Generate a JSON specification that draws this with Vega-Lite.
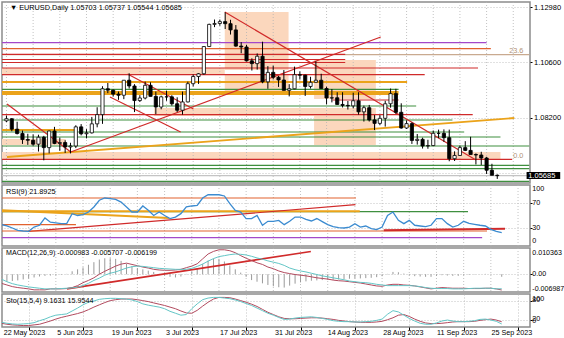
{
  "$schema": "https://vega.github.io/schema/vega-lite/v6.json",
  "padding": 0,
  "autosize": {"type": "pad"},
  "background": "white",
  "spacing": 2,
  "bounds": "flush",
  "config": {
    "font": "Liberation Sans",
    "view": {"stroke": "#8c8c8c", "strokeWidth": 1.5},
    "axis": {"labelFont": "Liberation Sans", "labelFontSize": 7.2, "labelColor": "#000000", "gridColor": "#b4b4b4", "gridDash": [1, 2], "gridWidth": 0.8, "domain": false, "tickColor": "#000000", "tickSize": 2, "title": null, "labelOverlap": false, "labelBound": false},
    "text": {"font": "Liberation Sans"}
  },
  "datasets": {
    "weeks": [{"i":0},{"i":5},{"i":10},{"i":15},{"i":20},{"i":25},{"i":30},{"i":35},{"i":40},{"i":45},{"i":50},{"i":55},{"i":60},{"i":65},{"i":70},{"i":75},{"i":80},{"i":85},{"i":90},{"i":95}],
    "bars": [
      {"i":0,"o":1.0806,"h":1.0829,"l":1.0801,"c":1.0815,"rsi":35,"mh":-0.00293,"ma":-0.00357,"mb":-0.0019,"k":14.2,"d":11.3},
      {"i":1,"o":1.0815,"h":1.0818,"l":1.0761,"c":1.077,"rsi":32.8,"mh":-0.00293,"ma":-0.00422,"mb":-0.00293,"k":11.3,"d":8.3},
      {"i":2,"o":1.077,"h":1.0802,"l":1.0747,"c":1.0751,"rsi":29.5,"mh":-0.00267,"ma":-0.00486,"mb":-0.0037,"k":9.3,"d":6.4},
      {"i":3,"o":1.0751,"h":1.0764,"l":1.0706,"c":1.0725,"rsi":25.7,"mh":-0.00242,"ma":-0.00524,"mb":-0.00422,"k":8.3,"d":5.4},
      {"i":4,"o":1.0725,"h":1.075,"l":1.0702,"c":1.0722,"rsi":24.6,"mh":-0.00203,"ma":-0.0055,"mb":-0.0046,"k":9.3,"d":4.4},
      {"i":5,"o":1.0722,"h":1.0747,"l":1.0698,"c":1.0705,"rsi":24,"mh":-0.00164,"ma":-0.00576,"mb":-0.00499,"k":10.3,"d":4.4},
      {"i":6,"o":1.0705,"h":1.0746,"l":1.0673,"c":1.0735,"rsi":31,"mh":-0.00126,"ma":-0.00614,"mb":-0.00524,"k":13.2,"d":6.4},
      {"i":7,"o":1.0735,"h":1.0741,"l":1.0635,"c":1.069,"rsi":34,"mh":-0.00087,"ma":-0.00614,"mb":-0.0055,"k":19.1,"d":8.3},
      {"i":8,"o":1.069,"h":1.0763,"l":1.0665,"c":1.0762,"rsi":46,"mh":-0.00062,"ma":-0.00614,"mb":-0.00576,"k":24,"d":13.2},
      {"i":9,"o":1.0762,"h":1.078,"l":1.0705,"c":1.0708,"rsi":39,"mh":-0.00049,"ma":-0.00576,"mb":-0.00576,"k":30.9,"d":18.1},
      {"i":10,"o":1.0708,"h":1.0733,"l":1.0676,"c":1.0712,"rsi":38,"mh":-0.00036,"ma":-0.00576,"mb":-0.00576,"k":35.8,"d":24},
      {"i":11,"o":1.0712,"h":1.0722,"l":1.0667,"c":1.0693,"rsi":36.6,"mh":-0.00023,"ma":-0.00576,"mb":-0.00563,"k":37.7,"d":28.9},
      {"i":12,"o":1.0693,"h":1.0711,"l":1.0665,"c":1.0697,"rsi":36.6,"mh":0.00015,"ma":-0.00563,"mb":-0.0055,"k":39.7,"d":32.8},
      {"i":13,"o":1.0697,"h":1.0787,"l":1.0688,"c":1.078,"rsi":53,"mh":0.00118,"ma":-0.00524,"mb":-0.00537,"k":48.5,"d":36.8},
      {"i":14,"o":1.078,"h":1.0792,"l":1.0743,"c":1.075,"rsi":50,"mh":0.00195,"ma":-0.00447,"mb":-0.00511,"k":57.4,"d":40.7},
      {"i":15,"o":1.075,"h":1.077,"l":1.073,"c":1.0754,"rsi":51.3,"mh":0.00272,"ma":-0.00332,"mb":-0.00447,"k":67.2,"d":45.6},
      {"i":16,"o":1.0754,"h":1.0823,"l":1.0751,"c":1.0793,"rsi":55.7,"mh":0.00375,"ma":-0.00242,"mb":-0.00357,"k":75,"d":52.5},
      {"i":17,"o":1.0793,"h":1.0865,"l":1.0778,"c":1.0833,"rsi":64,"mh":0.00478,"ma":-0.00139,"mb":-0.00242,"k":78.9,"d":60.3},
      {"i":18,"o":1.0833,"h":1.0956,"l":1.0793,"c":1.0945,"rsi":75,"mh":0.00581,"ma":0.00003,"mb":-0.00152,"k":83.8,"d":67.2},
      {"i":19,"o":1.0945,"h":1.097,"l":1.0926,"c":1.0939,"rsi":78.7,"mh":0.00632,"ma":0.00118,"mb":-0.00036,"k":85.8,"d":74},
      {"i":20,"o":1.0939,"h":1.0942,"l":1.0911,"c":1.0922,"rsi":77.6,"mh":0.00632,"ma":0.00221,"mb":0.00041,"k":86.8,"d":79.9},
      {"i":21,"o":1.0922,"h":1.0933,"l":1.0897,"c":1.0917,"rsi":76.5,"mh":0.00607,"ma":0.00324,"mb":0.00093,"k":86.8,"d":82.8},
      {"i":22,"o":1.0917,"h":1.0983,"l":1.09,"c":1.0982,"rsi":72,"mh":0.00529,"ma":0.00401,"mb":0.0017,"k":85.8,"d":84.8},
      {"i":23,"o":1.0982,"h":1.1012,"l":1.0946,"c":1.0957,"rsi":64,"mh":0.00414,"ma":0.00439,"mb":0.00247,"k":84.8,"d":84.8},
      {"i":24,"o":1.0957,"h":1.0965,"l":1.0844,"c":1.0894,"rsi":55.7,"mh":0.00324,"ma":0.00388,"mb":0.00298,"k":81.9,"d":84.8},
      {"i":25,"o":1.0894,"h":1.0917,"l":1.0888,"c":1.0905,"rsi":55.7,"mh":0.00247,"ma":0.00337,"mb":0.00324,"k":77,"d":82.8},
      {"i":26,"o":1.0905,"h":1.0976,"l":1.0899,"c":1.096,"rsi":65.6,"mh":0.00195,"ma":0.00285,"mb":0.00311,"k":70.1,"d":79.9},
      {"i":27,"o":1.096,"h":1.0973,"l":1.0912,"c":1.0912,"rsi":58.5,"mh":0.00144,"ma":0.00247,"mb":0.00285,"k":66.2,"d":77},
      {"i":28,"o":1.0912,"h":1.0933,"l":1.0835,"c":1.0866,"rsi":50,"mh":0.00093,"ma":0.00195,"mb":0.0026,"k":63.2,"d":73},
      {"i":29,"o":1.0866,"h":1.0915,"l":1.0856,"c":1.091,"rsi":55.7,"mh":0.00015,"ma":0.0017,"mb":0.00234,"k":60.3,"d":69.1},
      {"i":30,"o":1.091,"h":1.0937,"l":1.0893,"c":1.091,"rsi":50,"mh":-0.00049,"ma":0.00157,"mb":0.00221,"k":55.4,"d":65.2},
      {"i":31,"o":1.091,"h":1.0917,"l":1.0872,"c":1.088,"rsi":45,"mh":-0.001,"ma":0.00157,"mb":0.00208,"k":47.5,"d":60.3},
      {"i":32,"o":1.088,"h":1.0908,"l":1.0844,"c":1.0852,"rsi":47.5,"mh":-0.00126,"ma":0.0017,"mb":0.00195,"k":41.7,"d":55.4},
      {"i":33,"o":1.0852,"h":1.0933,"l":1.0833,"c":1.0888,"rsi":53,"mh":-0.00087,"ma":0.00195,"mb":0.00195,"k":35.8,"d":48.5},
      {"i":34,"o":1.0888,"h":1.0976,"l":1.0886,"c":1.0967,"rsi":64,"mh":0.00015,"ma":0.0026,"mb":0.00195,"k":37.7,"d":42.6},
      {"i":35,"o":1.0967,"h":1.1007,"l":1.0955,"c":1.0998,"rsi":65.6,"mh":0.00118,"ma":0.00324,"mb":0.00234,"k":55.4,"d":41.7},
      {"i":36,"o":1.0998,"h":1.1013,"l":1.0966,"c":1.101,"rsi":66.6,"mh":0.00247,"ma":0.00414,"mb":0.00311,"k":70.1,"d":50.5},
      {"i":37,"o":1.101,"h":1.113,"l":1.1006,"c":1.1128,"rsi":78.7,"mh":0.00414,"ma":0.00607,"mb":0.00401,"k":82.8,"d":63.2},
      {"i":38,"o":1.1128,"h":1.1227,"l":1.1126,"c":1.1224,"rsi":84,"mh":0.00542,"ma":0.00799,"mb":0.00517,"k":87.7,"d":75},
      {"i":39,"o":1.1224,"h":1.1245,"l":1.1212,"c":1.1228,"rsi":84,"mh":0.00619,"ma":0.00903,"mb":0.00619,"k":89.7,"d":84.8},
      {"i":40,"o":1.1228,"h":1.1245,"l":1.1218,"c":1.1236,"rsi":84,"mh":0.00607,"ma":0.00966,"mb":0.00697,"k":89.7,"d":89.7},
      {"i":41,"o":1.1236,"h":1.1276,"l":1.1204,"c":1.1227,"rsi":82,"mh":0.00504,"ma":0.00966,"mb":0.00735,"k":87.7,"d":89.7},
      {"i":42,"o":1.1227,"h":1.1244,"l":1.118,"c":1.12,"rsi":69.4,"mh":0.0035,"ma":0.00929,"mb":0.00774,"k":85.8,"d":88.7},
      {"i":43,"o":1.12,"h":1.1221,"l":1.1127,"c":1.113,"rsi":58.5,"mh":0.00195,"ma":0.00851,"mb":0.00799,"k":81.9,"d":84.8},
      {"i":44,"o":1.113,"h":1.1147,"l":1.1099,"c":1.1126,"rsi":55.7,"mh":0.00067,"ma":0.00735,"mb":0.00787,"k":77,"d":79.9},
      {"i":45,"o":1.1126,"h":1.1135,"l":1.1063,"c":1.1066,"rsi":45,"mh":-0.001,"ma":0.00632,"mb":0.00761,"k":71.1,"d":75},
      {"i":46,"o":1.1066,"h":1.1077,"l":1.1024,"c":1.1054,"rsi":45,"mh":-0.00229,"ma":0.00542,"mb":0.00709,"k":65.2,"d":69.1},
      {"i":47,"o":1.1054,"h":1.1098,"l":1.1028,"c":1.1086,"rsi":50,"mh":-0.00293,"ma":0.00452,"mb":0.00645,"k":57.4,"d":62.3},
      {"i":48,"o":1.1086,"h":1.1149,"l":1.0969,"c":1.0975,"rsi":34,"mh":-0.00357,"ma":0.00388,"mb":0.00594,"k":49.5,"d":53.4},
      {"i":49,"o":1.0975,"h":1.1043,"l":1.0945,"c":1.1016,"rsi":40.5,"mh":-0.00422,"ma":0.00285,"mb":0.00529,"k":41.7,"d":44.6},
      {"i":50,"o":1.1016,"h":1.1045,"l":1.0986,"c":1.0995,"rsi":40.5,"mh":-0.00473,"ma":0.00221,"mb":0.00478,"k":35.8,"d":37.7},
      {"i":51,"o":1.0995,"h":1.1001,"l":1.0953,"c":1.0983,"rsi":42,"mh":-0.00511,"ma":0.00131,"mb":0.00427,"k":28.9,"d":30.9},
      {"i":52,"o":1.0983,"h":1.1026,"l":1.0938,"c":1.0938,"rsi":35,"mh":-0.00524,"ma":0.00067,"mb":0.0035,"k":23,"d":26},
      {"i":53,"o":1.0938,"h":1.0965,"l":1.0912,"c":1.0945,"rsi":40.5,"mh":-0.00447,"ma":0.00028,"mb":0.00247,"k":24,"d":25},
      {"i":54,"o":1.0945,"h":1.1041,"l":1.0943,"c":1.1006,"rsi":47.5,"mh":-0.0037,"ma":-0.0001,"mb":0.00182,"k":27,"d":25},
      {"i":55,"o":1.1006,"h":1.102,"l":1.0985,"c":1.1004,"rsi":47.5,"mh":-0.00319,"ma":-0.00036,"mb":0.00131,"k":28.9,"d":26},
      {"i":56,"o":1.1004,"h":1.1006,"l":1.0914,"c":1.0955,"rsi":43.6,"mh":-0.0028,"ma":-0.00062,"mb":0.00093,"k":29.9,"d":27},
      {"i":57,"o":1.0955,"h":1.0997,"l":1.0946,"c":1.0973,"rsi":41,"mh":-0.00254,"ma":-0.001,"mb":0.00041,"k":30.9,"d":27.9},
      {"i":58,"o":1.0973,"h":1.1064,"l":1.0973,"c":1.0982,"rsi":45,"mh":-0.00242,"ma":-0.00139,"mb":-0.0001,"k":28.9,"d":27.9},
      {"i":59,"o":1.0982,"h":1.101,"l":1.0946,"c":1.0946,"rsi":40,"mh":-0.00229,"ma":-0.00164,"mb":-0.00062,"k":26,"d":27},
      {"i":60,"o":1.0946,"h":1.0954,"l":1.0878,"c":1.0905,"rsi":35,"mh":-0.00216,"ma":-0.0019,"mb":-0.001,"k":23,"d":25},
      {"i":61,"o":1.0905,"h":1.0944,"l":1.0886,"c":1.0906,"rsi":31.7,"mh":-0.00216,"ma":-0.00229,"mb":-0.00139,"k":19.1,"d":23},
      {"i":62,"o":1.0906,"h":1.093,"l":1.0876,"c":1.0877,"rsi":30,"mh":-0.00203,"ma":-0.00254,"mb":-0.00177,"k":17.2,"d":20.1},
      {"i":63,"o":1.0877,"h":1.093,"l":1.0864,"c":1.0873,"rsi":29.5,"mh":-0.0019,"ma":-0.00267,"mb":-0.00216,"k":16.2,"d":18.1},
      {"i":64,"o":1.0873,"h":1.0892,"l":1.0855,"c":1.0871,"rsi":31,"mh":-0.00177,"ma":-0.00293,"mb":-0.00267,"k":16.2,"d":16.2},
      {"i":65,"o":1.0871,"h":1.0928,"l":1.086,"c":1.0893,"rsi":36.6,"mh":-0.00164,"ma":-0.00319,"mb":-0.00293,"k":15.2,"d":15.2},
      {"i":66,"o":1.0893,"h":1.093,"l":1.0833,"c":1.0845,"rsi":31,"mh":-0.00164,"ma":-0.00344,"mb":-0.00319,"k":15.2,"d":14.2},
      {"i":67,"o":1.0845,"h":1.0872,"l":1.0803,"c":1.0863,"rsi":32.8,"mh":-0.00152,"ma":-0.00383,"mb":-0.00332,"k":16.2,"d":14.2},
      {"i":68,"o":1.0863,"h":1.0875,"l":1.0803,"c":1.081,"rsi":28.4,"mh":-0.00139,"ma":-0.00422,"mb":-0.00357,"k":17.2,"d":14.2},
      {"i":69,"o":1.081,"h":1.0831,"l":1.0766,"c":1.0795,"rsi":26.8,"mh":-0.00113,"ma":-0.0046,"mb":-0.00396,"k":20.1,"d":15.2},
      {"i":70,"o":1.0795,"h":1.0831,"l":1.0788,"c":1.0817,"rsi":31,"mh":-0.00075,"ma":-0.00473,"mb":-0.00422,"k":24,"d":17.2},
      {"i":71,"o":1.0817,"h":1.0893,"l":1.0781,"c":1.088,"rsi":50,"mh":0.00015,"ma":-0.00422,"mb":-0.00447,"k":38.7,"d":22.1},
      {"i":72,"o":1.088,"h":1.0946,"l":1.0863,"c":1.0924,"rsi":55.7,"mh":0.00093,"ma":-0.00396,"mb":-0.00447,"k":49.5,"d":27.9},
      {"i":73,"o":1.0924,"h":1.0945,"l":1.0836,"c":1.0843,"rsi":42,"mh":0.0008,"ma":-0.00396,"mb":-0.00447,"k":45.6,"d":35.8},
      {"i":74,"o":1.0843,"h":1.0882,"l":1.0772,"c":1.0775,"rsi":36.6,"mh":0.00028,"ma":-0.00422,"mb":-0.00447,"k":35.8,"d":37.7},
      {"i":75,"o":1.0775,"h":1.0808,"l":1.0771,"c":1.0794,"rsi":42,"mh":-0.00036,"ma":-0.00434,"mb":-0.00447,"k":26,"d":31.9},
      {"i":76,"o":1.0794,"h":1.0799,"l":1.0706,"c":1.0721,"rsi":34,"mh":-0.00075,"ma":-0.0046,"mb":-0.0046,"k":18.1,"d":24},
      {"i":77,"o":1.0721,"h":1.0749,"l":1.0703,"c":1.0726,"rsi":32.8,"mh":-0.00087,"ma":-0.00499,"mb":-0.00486,"k":11.3,"d":17.2},
      {"i":78,"o":1.0726,"h":1.0733,"l":1.0686,"c":1.0697,"rsi":31.7,"mh":-0.001,"ma":-0.00537,"mb":-0.00524,"k":8.3,"d":12.3},
      {"i":79,"o":1.0697,"h":1.0724,"l":1.0685,"c":1.0699,"rsi":34,"mh":-0.001,"ma":-0.00576,"mb":-0.0055,"k":8.3,"d":10.3},
      {"i":80,"o":1.0699,"h":1.0764,"l":1.0698,"c":1.0752,"rsi":45,"mh":-0.00062,"ma":-0.0055,"mb":-0.00563,"k":12.3,"d":10.3},
      {"i":81,"o":1.0752,"h":1.0768,"l":1.0731,"c":1.0752,"rsi":45,"mh":-0.00036,"ma":-0.00524,"mb":-0.00563,"k":18.1,"d":11.3},
      {"i":82,"o":1.0752,"h":1.0769,"l":1.0715,"c":1.0733,"rsi":36.6,"mh":-0.00049,"ma":-0.00537,"mb":-0.00563,"k":21.1,"d":13.2},
      {"i":83,"o":1.0733,"h":1.0768,"l":1.0631,"c":1.0642,"rsi":31,"mh":-0.00062,"ma":-0.0055,"mb":-0.00576,"k":18.1,"d":15.2},
      {"i":84,"o":1.0642,"h":1.0674,"l":1.0632,"c":1.0656,"rsi":34,"mh":-0.00062,"ma":-0.0055,"mb":-0.00576,"k":16.2,"d":16.2},
      {"i":85,"o":1.0656,"h":1.0699,"l":1.0654,"c":1.069,"rsi":40.5,"mh":-0.00036,"ma":-0.0055,"mb":-0.00576,"k":16.2,"d":16.2},
      {"i":86,"o":1.069,"h":1.0718,"l":1.0675,"c":1.0678,"rsi":37,"mh":-0.00023,"ma":-0.00563,"mb":-0.00563,"k":17.2,"d":16.2},
      {"i":87,"o":1.0678,"h":1.0737,"l":1.066,"c":1.066,"rsi":35.5,"mh":-0.0001,"ma":-0.00563,"mb":-0.0055,"k":19.1,"d":17.2},
      {"i":88,"o":1.066,"h":1.0665,"l":1.0617,"c":1.0658,"rsi":34,"mh":0.00003,"ma":-0.00563,"mb":-0.0055,"k":23,"d":20.1},
      {"i":89,"o":1.0658,"h":1.0672,"l":1.0615,"c":1.0645,"rsi":32.8,"mh":0.00015,"ma":-0.0055,"mb":-0.0055,"k":24,"d":22.1},
      {"i":90,"o":1.0645,"h":1.065,"l":1.0576,"c":1.0592,"rsi":27.3,"mh":0.00015,"ma":-0.0055,"mb":-0.0055,"k":21.1,"d":24},
      {"i":91,"o":1.0592,"h":1.062,"l":1.0573,"c":1.057,"rsi":24,"mh":0.00003,"ma":-0.00576,"mb":-0.00576,"k":17.2,"d":21.1},
      {"i":92,"o":1.05703,"h":1.05737,"l":1.05544,"c":1.05685,"rsi":21.9,"mh":-0.00098,"ma":-0.0062,"mb":-0.00571,"k":9.16,"d":15.95}
    ],
    "zones": [
      {"i1":40.92,"i2":52.88,"p1":1.12777,"p2":1.10264},
      {"i1":40.92,"i2":52.88,"p1":1.1009,"p2":1.0918},
      {"i1":57.66,"i2":69.24,"p1":1.10697,"p2":1.09007},
      {"i1":27.68,"i2":69.24,"p1":1.08617,"p2":1.0827},
      {"i1":57.66,"i2":69.24,"p1":1.0827,"p2":1.07014},
      {"i1":-1,"i2":40.92,"p1":1.1035,"p2":1.1009},
      {"i1":-1,"i2":92.6,"p1":1.0671,"p2":1.06407},
      {"i1":-1,"i2":11.1,"p1":1.07274,"p2":1.07014}
    ],
    "plines": [
      {"i1":-1,"i2":98,"p1":1.05685,"p2":1.05685,"tone":"bid"},
      {"i1":-1,"i2":90.0,"p1":1.11446,"p2":1.11446,"tone":"purple"},
      {"i1":-1,"i2":90.8,"p1":1.11187,"p2":1.11187,"tone":"orangered"},
      {"i1":-1,"i2":98,"p1":1.10926,"p2":1.10926,"tone":"tan"},
      {"i1":-1,"i2":63.5,"p1":1.10944,"p2":1.10944,"tone":"red"},
      {"i1":-1,"i2":63.5,"p1":1.10719,"p2":1.10719,"tone":"red"},
      {"i1":-1,"i2":63.5,"p1":1.10589,"p2":1.10589,"tone":"red"},
      {"i1":-1,"i2":88.4,"p1":1.1035,"p2":1.1035,"tone":"red"},
      {"i1":-1,"i2":78.4,"p1":1.1006,"p2":1.1006,"tone":"red"},
      {"i1":-1,"i2":75.1,"p1":1.09744,"p2":1.09744,"tone":"gold"},
      {"i1":-1,"i2":73.5,"p1":1.09427,"p2":1.09427,"tone":"green"},
      {"i1":-1,"i2":73.5,"p1":1.0931,"p2":1.0931,"tone":"gold"},
      {"i1":-1,"i2":73.5,"p1":1.09224,"p2":1.09224,"tone":"gold"},
      {"i1":61.1,"i2":73.5,"p1":1.08964,"p2":1.08964,"tone":"red"},
      {"i1":-1,"i2":76.8,"p1":1.08704,"p2":1.08704,"tone":"green"},
      {"i1":-1,"i2":87.4,"p1":1.08327,"p2":1.08327,"tone":"red"},
      {"i1":-1,"i2":83.6,"p1":1.08097,"p2":1.08097,"tone":"green"},
      {"i1":-1,"i2":13.0,"p1":1.07664,"p2":1.07664,"tone":"gold"},
      {"i1":-1,"i2":85.8,"p1":1.07577,"p2":1.07577,"tone":"green"},
      {"i1":-1,"i2":92.6,"p1":1.0736,"p2":1.0736,"tone":"green"},
      {"i1":-1,"i2":98,"p1":1.0697,"p2":1.0697,"tone":"green"},
      {"i1":-1,"i2":94.8,"p1":1.06394,"p2":1.06394,"tone":"red"},
      {"i1":-1,"i2":98,"p1":1.06134,"p2":1.06134,"tone":"green"},
      {"i1":-1,"i2":98,"p1":1.05987,"p2":1.05987,"tone":"green"},
      {"i1":-1,"i2":98,"p1":1.05441,"p2":1.05441,"tone":"green"},
      {"i1":0.1,"i2":95.2,"p1":1.06494,"p2":1.08184,"tone":"gold"},
      {"i1":0.1,"i2":12.05,"p1":1.0879,"p2":1.0671,"tone":"red"},
      {"i1":12.05,"i2":70.16,"p1":1.0671,"p2":1.11693,"tone":"red"},
      {"i1":40.92,"i2":88.0,"p1":1.12777,"p2":1.06364,"tone":"red"},
      {"i1":22.7,"i2":35.04,"p1":1.1009,"p2":1.08574,"tone":"red"},
      {"i1":19.4,"i2":32.65,"p1":1.09094,"p2":1.07577,"tone":"red"}
    ],
    "rlines": [
      {"i1":-1,"i2":65.2,"v1":78.7,"v2":78.7,"tone":"orangered"},
      {"i1":-1,"i2":85.8,"v1":56.5,"v2":56.5,"tone":"green"},
      {"i1":-1,"i2":65.9,"v1":57,"v2":57,"tone":"gold"},
      {"i1":0.1,"i2":30.8,"v1":58.5,"v2":46,"tone":"gold"},
      {"i1":5.0,"i2":65.1,"v1":24,"v2":67.7,"tone":"red"},
      {"i1":-1,"i2":13.7,"v1":35,"v2":35,"tone":"orangered"},
      {"i1":-1,"i2":89.3,"v1":24.6,"v2":24.6,"tone":"orangered"},
      {"i1":70.3,"i2":92.6,"v1":25.7,"v2":28.4,"tone":"red"},
      {"i1":-1,"i2":88.4,"v1":13.7,"v2":13.7,"tone":"purple"}
    ]
  },
  "vconcat": [
    {
      "width": 528,
      "height": 181,
      "layer": [
        {
          "data": {"name": "zones"},
          "mark": {"type": "rect", "clip": true, "color": "#fbd7bd"},
          "encoding": {
            "x": {"field": "i1", "type": "quantitative", "scale": {"domain": [0.1, 97.2], "nice": false, "zero": false}, "axis": null},
            "x2": {"field": "i2"},
            "y": {"field": "p1", "type": "quantitative", "scale": {"domain": [1.05367, 1.1321], "nice": false, "zero": false}, "axis": {"orient": "right", "values": [1.058, 1.07, 1.082, 1.094, 1.106, 1.1178, 1.1298], "labelExpr": "datum.value < 1.06 ? '' : format(datum.value, '.5f')", "grid": true, "labelPadding": 1.5, "labelFontSize": 7.5, "labelOverlap": false}},
            "y2": {"field": "p2"}
          }
        },
        {
          "data": {"name": "weeks"},
          "mark": {"type": "rule", "color": "#b4b4b4", "strokeDash": [1, 2], "strokeWidth": 0.8},
          "encoding": {"x": {"field": "i", "type": "quantitative"}}
        },
        {
          "data": {"name": "plines"},
          "mark": {"type": "rule", "clip": true},
          "encoding": {
            "x": {"field": "i1", "type": "quantitative"},
            "x2": {"field": "i2"},
            "y": {"field": "p1", "type": "quantitative"},
            "y2": {"field": "p2"},
            "color": {"field": "tone", "type": "nominal", "legend": null, "scale": {"domain": ["purple","orangered","tan","red","gold","green","bid"], "range": ["#a348c9","#e2622e","#c9aa90","#d02a2a","#eba31a","#3f8f3f","#c4c4c4"]}},
            "strokeWidth": {"condition": {"test": "datum.tone === 'gold'", "value": 1.8}, "value": 1.2}
          }
        },
        {
          "data": {"name": "bars"},
          "mark": {"type": "rule", "color": "#000000", "strokeWidth": 1},
          "encoding": {
            "x": {"field": "i", "type": "quantitative"},
            "y": {"field": "l", "type": "quantitative"},
            "y2": {"field": "h"}
          }
        },
        {
          "data": {"name": "bars"},
          "mark": {"type": "bar", "size": 3.2, "stroke": "#000000", "strokeWidth": 0.8},
          "encoding": {
            "x": {"field": "i", "type": "quantitative"},
            "y": {"field": "o", "type": "quantitative"},
            "y2": {"field": "c"},
            "fill": {"condition": {"test": "datum.c >= datum.o", "value": "#ffffff"}, "value": "#000000"}
          }
        },
        {
          "data": {"values": [
            {"i": 0.65, "p": 1.12937, "t": "▼ EURUSD,Daily  1.05703 1.05737 1.05544 1.05685"}
          ]},
          "mark": {"type": "text", "align": "left", "baseline": "middle", "fontSize": 7.3, "color": "#000000"},
          "encoding": {
            "x": {"field": "i", "type": "quantitative"},
            "y": {"field": "p", "type": "quantitative"},
            "text": {"field": "t"}
          }
        },
        {
          "data": {"values": [
            {"i": 96.9, "p": 1.11087, "t": "23.6"},
            {"i": 96.9, "p": 1.06537, "t": "0.0"}
          ]},
          "mark": {"type": "text", "align": "right", "baseline": "middle", "fontSize": 7.3, "color": "#b09276"},
          "encoding": {
            "x": {"field": "i", "type": "quantitative"},
            "y": {"field": "p", "type": "quantitative"},
            "text": {"field": "t"}
          }
        },
        {
          "data": {"values": [{"i1": 97.5, "i2": 103.8, "p1": 1.05845, "p2": 1.05535}]},
          "mark": {"type": "rect", "color": "#000000"},
          "encoding": {
            "x": {"field": "i1", "type": "quantitative"},
            "x2": {"field": "i2"},
            "y": {"field": "p1", "type": "quantitative"},
            "y2": {"field": "p2"}
          }
        },
        {
          "data": {"values": [{"i": 97.8, "p": 1.05685, "t": "1.05685"}]},
          "mark": {"type": "text", "align": "left", "baseline": "middle", "fontSize": 7.5, "color": "#ffffff"},
          "encoding": {
            "x": {"field": "i", "type": "quantitative"},
            "y": {"field": "p", "type": "quantitative"},
            "text": {"field": "t"}
          }
        }
      ]
    },
    {
      "width": 528,
      "height": 61,
      "layer": [
        {
          "data": {"name": "weeks"},
          "mark": {"type": "rule", "color": "#b4b4b4", "strokeDash": [1, 2], "strokeWidth": 0.8},
          "encoding": {"x": {"field": "i", "type": "quantitative", "scale": {"domain": [0.1, 97.2], "nice": false, "zero": false}, "axis": null}}
        },
        {
          "data": {"name": "rlines"},
          "mark": {"type": "rule", "clip": true},
          "encoding": {
            "x": {"field": "i1", "type": "quantitative"},
            "x2": {"field": "i2"},
            "y": {"field": "v1", "type": "quantitative", "scale": {"domain": [0, 100], "nice": false}, "axis": {"orient": "right", "values": [30, 70], "labels": false, "grid": true, "ticks": true}},
            "y2": {"field": "v2"},
            "color": {"field": "tone", "type": "nominal", "legend": null, "scale": {"domain": ["purple","orangered","tan","red","gold","green","bid"], "range": ["#a348c9","#e2622e","#c9aa90","#d02a2a","#eba31a","#3f8f3f","#c4c4c4"]}},
            "strokeWidth": {"condition": {"test": "datum.tone === 'gold' || (datum.tone === 'red' && datum.i1 > 60)", "value": 2}, "value": 1.2}
          }
        },
        {
          "data": {"name": "bars"},
          "mark": {"type": "line", "color": "#3b8bd0", "strokeWidth": 1.3, "clip": true},
          "encoding": {
            "x": {"field": "i", "type": "quantitative"},
            "y": {"field": "rsi", "type": "quantitative"}
          }
        },
        {
          "data": {"values": [
            {"i": 0.84, "v": 89, "t": "RSI(9) 21.8925", "side": "left"},
            {"i": 97.62, "v": 93, "t": "100", "side": "right"},
            {"i": 97.62, "v": 70, "t": "70", "side": "right"},
            {"i": 97.62, "v": 30, "t": "30", "side": "right"},
            {"i": 97.62, "v": 7.7, "t": "0", "side": "right"}
          ]},
          "mark": {"type": "text", "align": "left", "baseline": "middle", "fontSize": 7.2, "color": "#000000"},
          "encoding": {
            "x": {"field": "i", "type": "quantitative"},
            "y": {"field": "v", "type": "quantitative"},
            "text": {"field": "t"},
            "size": {"condition": {"test": "datum.side === 'left'", "value": 7.3}, "value": 7.2}
          }
        }
      ]
    },
    {
      "width": 528,
      "height": 44,
      "layer": [
        {
          "data": {"name": "weeks"},
          "mark": {"type": "rule", "color": "#b4b4b4", "strokeDash": [1, 2], "strokeWidth": 0.8},
          "encoding": {"x": {"field": "i", "type": "quantitative", "scale": {"domain": [0.1, 97.2], "nice": false, "zero": false}, "axis": null}}
        },
        {
          "data": {"name": "bars"},
          "mark": {"type": "rule", "color": "#9a9a9a", "strokeWidth": 1, "clip": true},
          "encoding": {
            "x": {"field": "i", "type": "quantitative"},
            "y": {"field": "mh", "type": "quantitative", "scale": {"domain": [-0.006987, 0.010363], "nice": false, "zero": false}, "axis": {"orient": "right", "values": [0], "labels": false, "grid": true, "ticks": true}},
            "y2": {"datum": 0}
          }
        },
        {
          "data": {"values": [{"i1": 12.05, "v1": -0.00574, "i2": 56.9, "v2": 0.009}]},
          "mark": {"type": "rule", "color": "#d02a2a", "strokeWidth": 1.6, "clip": true},
          "encoding": {
            "x": {"field": "i1", "type": "quantitative"},
            "x2": {"field": "i2"},
            "y": {"field": "v1", "type": "quantitative"},
            "y2": {"field": "v2"}
          }
        },
        {
          "data": {"name": "bars"},
          "mark": {"type": "line", "color": "#b24a5e", "strokeWidth": 1, "clip": true},
          "encoding": {
            "x": {"field": "i", "type": "quantitative"},
            "y": {"field": "ma", "type": "quantitative"}
          }
        },
        {
          "data": {"name": "bars"},
          "mark": {"type": "line", "color": "#63c6c6", "strokeWidth": 1, "clip": true},
          "encoding": {
            "x": {"field": "i", "type": "quantitative"},
            "y": {"field": "mb", "type": "quantitative"}
          }
        },
        {
          "data": {"values": [
            {"i": 0.84, "v": 0.00825, "t": "MACD(12,26,9) -0.000983 -0.005707 -0.006199"},
            {"i": 97.62, "v": 0.00852, "t": "0.010363"},
            {"i": 97.62, "v": 0, "t": "0.00"},
            {"i": 97.62, "v": -0.00591, "t": "-0.006987"}
          ]},
          "mark": {"type": "text", "align": "left", "baseline": "middle", "fontSize": 7.1, "color": "#000000"},
          "encoding": {
            "x": {"field": "i", "type": "quantitative"},
            "y": {"field": "v", "type": "quantitative"},
            "text": {"field": "t"}
          }
        }
      ]
    },
    {
      "width": 528,
      "height": 33,
      "layer": [
        {
          "data": {"name": "bars"},
          "mark": {"type": "line", "color": "#b24a5e", "strokeWidth": 1, "clip": true},
          "encoding": {
            "x": {"field": "i", "type": "quantitative", "scale": {"domain": [0.1, 97.2], "nice": false, "zero": false}, "axis": {"values": [0,5,10,15,20,25,30,35,40,45,50,55,60,65,70,75,80,85,90,95], "labels": false, "tickSize": 3, "grid": true, "domain": false}},
            "y": {"field": "d", "type": "quantitative", "scale": {"domain": [0, 100], "nice": false}, "axis": {"orient": "right", "values": [20, 80], "labels": false, "grid": true, "ticks": true}}
          }
        },
        {
          "data": {"name": "bars"},
          "mark": {"type": "line", "color": "#63c6c6", "strokeWidth": 1, "clip": true},
          "encoding": {
            "x": {"field": "i", "type": "quantitative"},
            "y": {"field": "k", "type": "quantitative"}
          }
        },
        {
          "data": {"values": [
            {"i": 0.84, "v": 79, "t": "Sto(15,5,4) 9.1631 15.9544"},
            {"i": 97.62, "v": 86, "t": "100"},
            {"i": 97.62, "v": 81, "t": "80"},
            {"i": 97.62, "v": 23, "t": "20"},
            {"i": 97.62, "v": 17, "t": "0"},
            {"i": 0.4, "v": -18, "t": "22 May 2023"},
            {"i": 10.25, "v": -18, "t": "5 Jun 2023"},
            {"i": 20.3, "v": -18, "t": "19 Jun 2023"},
            {"i": 30.25, "v": -18, "t": "3 Jul 2023"},
            {"i": 40.2, "v": -18, "t": "17 Jul 2023"},
            {"i": 50.3, "v": -18, "t": "31 Jul 2023"},
            {"i": 60.0, "v": -18, "t": "14 Aug 2023"},
            {"i": 70.2, "v": -18, "t": "28 Aug 2023"},
            {"i": 80.1, "v": -18, "t": "11 Sep 2023"},
            {"i": 90.1, "v": -18, "t": "25 Sep 2023"}
          ]},
          "mark": {"type": "text", "align": "left", "baseline": "middle", "fontSize": 7.2, "color": "#000000"},
          "encoding": {
            "x": {"field": "i", "type": "quantitative"},
            "y": {"field": "v", "type": "quantitative"},
            "text": {"field": "t"}
          }
        }
      ]
    }
  ]
}
